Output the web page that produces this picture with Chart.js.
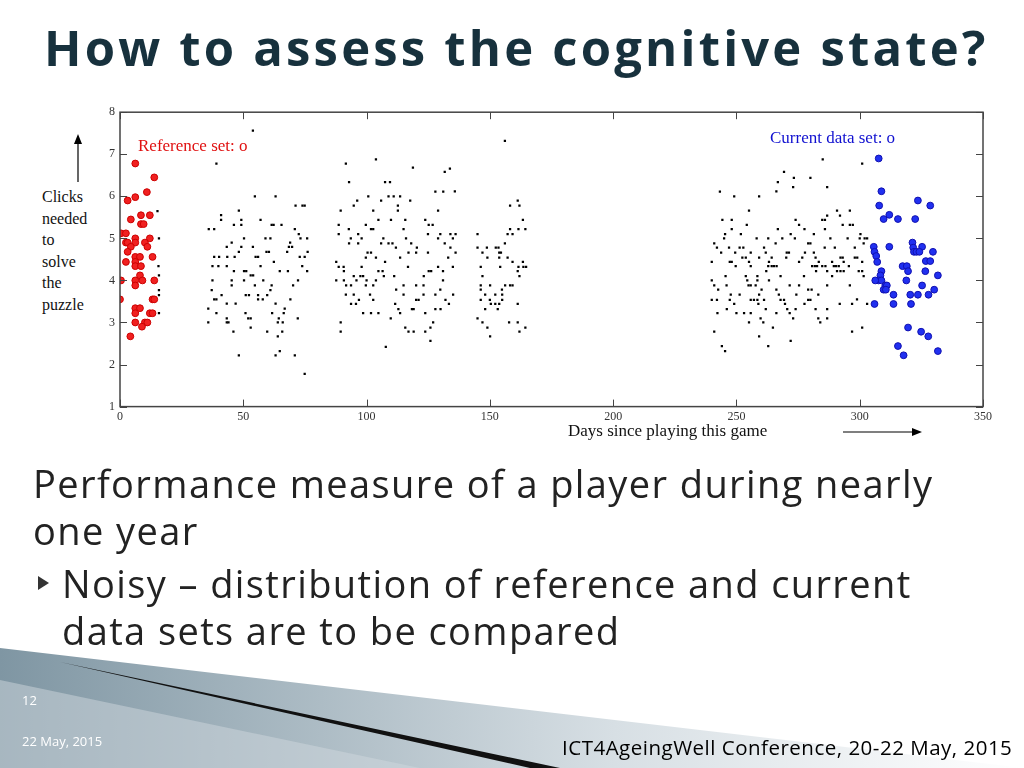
<!DOCTYPE html>
<html><head><meta charset="utf-8">
<script src="https://cdn.jsdelivr.net/npm/chart.js@4"></script>
<style>
body{margin:0;width:1024px;height:768px;background:#fff;position:relative;overflow:hidden;font-family:"Open Sans",sans-serif}
.abs{position:absolute;white-space:nowrap}
#title{left:44px;top:14px;font-size:49px;font-weight:bold;color:#17313d;letter-spacing:3.2px}
.serif{font-family:"Liberation Serif",serif}
.body{font-size:38px;color:#222;left:33px;letter-spacing:1.4px}
</style></head><body>
<svg class="abs" style="left:0;top:0" width="1024" height="768">
<defs><linearGradient id="g" x1="0" y1="0" x2="1" y2="0"><stop offset="0" stop-color="#7f96a3"/><stop offset="0.6" stop-color="#d7dfe4"/><stop offset="1" stop-color="#fff"/></linearGradient></defs>
<polygon points="0,648 0,768 1024,768" fill="url(#g)"/>
<polygon points="60,662 560,768 530,768" fill="#111"/>
<polygon points="0,680 0,768 420,768" fill="#cfd8de" opacity="0.5"/>
</svg>
<div id="title" class="abs">How to assess the cognitive state?</div>
<canvas id="c" class="abs" width="899" height="327" style="left:104px;top:100px;width:899px;height:327px"></canvas>
<div class="abs serif" style="left:138px;top:136px;font-size:17px;color:#e01010">Reference set: o</div>
<div class="abs serif" style="left:770px;top:128px;font-size:17px;color:#1010d0">Current data set: o</div>
<div class="abs serif" style="left:42px;top:186px;font-size:16px;line-height:21.5px;color:#111;white-space:normal">Clicks<br>needed<br>to<br>solve<br>the<br>puzzle</div>
<svg class="abs" style="left:0;top:0" width="1024" height="768">
<line x1="78" y1="182" x2="78" y2="138" stroke="#000" stroke-width="1.2"/><polygon points="78,134 74,144 82,144" fill="#000"/>
<line x1="843" y1="432" x2="918" y2="432" stroke="#000" stroke-width="1.2"/><polygon points="922,432 912,428 912,436" fill="#000"/>
</svg>
<div class="abs serif" style="left:568px;top:421px;font-size:17px;color:#111">Days since playing this game</div>
<div class="abs body" style="top:457px">Performance measure of a player during nearly</div>
<div class="abs body" style="top:504px">one year</div>
<div class="abs" style="left:38px;top:576px;width:0;height:0;border-left:11px solid #333;border-top:7px solid transparent;border-bottom:7px solid transparent"></div>
<div class="abs body" style="left:62px;top:557px">Noisy – distribution of reference and current</div>
<div class="abs body" style="left:62px;top:604px">data sets are to be compared</div>
<div class="abs" style="left:22px;top:691px;font-size:13px;color:#fff">12</div>
<div class="abs" style="left:22px;top:732px;font-size:13px;color:#fff">22 May, 2015</div>
<div class="abs" style="left:562px;top:733px;font-size:20.5px;color:#000;letter-spacing:0.5px">ICT4AgeingWell Conference, 20-22 May, 2015</div>
<script>
const xTicks=[0,50,100,150,200,250,300,350];
const yTicks=[1,2,3,4,5,6,7,8];
const refX=[6.2,13.9,10.9,6.2,3.1,4.4,12.1,8.5,8.5,9.6,0.4,2.4,2.4,3.1,6.2,6.2,12.1,10.1,4.4,11.1,3.1,6.2,8.1,13.2,2.4,6.2,6.2,8.5,8.1,0.4,6.2,9.1,13.9,6.2,0,13.2,13.9,6.2,8.1,6.2,12.1,13.2,6.2,10.1,11.1,8.9,4.2];
const refY=[6.78,6.45,6.1,5.98,5.9,5.45,5.55,5.55,5.34,5.34,5.12,5.12,4.9,4.9,5.0,4.9,5.0,4.9,4.8,4.8,4.68,4.56,4.56,4.56,4.44,4.44,4.34,4.34,4.12,4.0,4.0,4.0,4.0,3.88,3.55,3.55,3.55,3.34,3.34,3.22,3.22,3.22,3.0,3.0,3.0,2.9,2.67];
const curX=[307.7,308.8,307.9,323.6,328.6,312,309.7,315.5,322.5,305.7,312,321.4,321.7,325.3,322,323,324.2,329.7,306,306.7,307.1,326.8,328.6,317.4,319.1,319.6,326.6,331.7,308.8,308.4,307.7,308.8,318.9,306.3,310.4,311,309.7,310.6,325.3,330.2,313.7,320.5,323.6,327.9,306,313.7,320.8,319.6,324.9,327.8,315.5,317.8,331.7];
const curY=[6.9,6.12,5.78,5.9,5.78,5.56,5.46,5.46,5.46,4.8,4.8,4.9,4.78,4.8,4.68,4.68,4.68,4.68,4.68,4.58,4.44,4.46,4.46,4.34,4.34,4.22,4.22,4.12,4.22,4.12,4.0,4.0,4.0,4.0,3.88,3.88,3.78,3.78,3.88,3.78,3.66,3.66,3.66,3.66,3.44,3.44,3.44,2.88,2.78,2.67,2.44,2.22,2.32];
const dayX=[15.2,15.8,15.6,15.8,15.8,15.8,15.8,
53.9,39.1,54.7,63.1,48.2,41,41,49.2,57,61.5,62.3,65.5,46.2,49.2,36,38.2,71.2,74,74.9,70.9,72.5,73.2,75.9,50.3,59,61,45.3,53.9,43.3,48.2,49.2,69,69.8,68.5,59.4,60.4,67.8,76.1,38.2,40.2,43.5,46.5,55,56,62.4,72.9,74.9,37.5,39.9,43.3,57,73.9,46.2,50.3,51.2,64.8,68.1,75.9,53,54,37.5,45.3,50.3,58.1,72.2,70.2,45.3,54.7,61.5,37.2,61,51,52.3,41.2,56,59.7,38.2,39.1,56,57.9,69.1,43.3,46.9,63.1,35.8,66.8,39.1,50.9,61.7,66.4,52,53,64.4,43.3,72.1,43.3,44,35.8,64,66,53,46,59.7,65.8,64,64.8,63.1,48.2,70.9,74.9,
103.8,91.6,118.8,131.7,133.8,92.9,107.5,109.5,127.9,131.1,135.8,100.7,108.9,111,113.6,117.7,105.9,96.2,94.8,112.7,89.5,102.7,112.7,129,104.8,109.9,115.7,123.8,125.2,99.7,88.7,101.8,102.7,92.8,115,126.8,88.7,96.6,124.9,129.9,134,136.1,93.6,98,106.8,116,129,135,92.9,96.6,105.9,108.9,110.5,118.1,131.7,111.9,120.4,134,100.4,101.8,117,120.1,124.9,136.1,99.7,103.8,113.6,133.1,87.7,88.7,90.7,98,107.5,116.8,129,135,90.8,104.8,106.5,125.2,126.2,131,94.8,97.5,98.6,107,111.2,123.2,87.7,90.8,95.9,100,103.8,131,91.7,93.7,99.7,102.7,115,120.1,123.1,112,129.9,91.6,94.8,101.4,115,123.1,127.9,135.1,96.9,102.7,120.1,121.1,132,93.7,95.7,111.6,133.4,112.9,118.4,119.1,127.9,130,98.6,101.8,104.8,113.6,123.8,109.8,89.5,127,115.7,117,119.1,123.8,125.9,89.5,125.9,107.8,
156.1,161.3,158.2,162,163.4,164.4,158.2,161.6,145,157.2,159.2,156.1,145,148.8,152.4,153.5,147,153.8,154.5,149,153.8,157.2,159.2,163.4,146.3,154.2,161.6,163.6,164.7,161.3,162,147,146.3,150.1,156.2,158.2,159.2,146.3,154.9,148.1,152.2,155,146.3,150,155,150.4,152.2,153.8,148.1,153.2,161.3,145,147,157.8,161.3,149,162,164.4,150.1,
285,301,269.3,273.3,280,266.8,273,286.8,266.2,243.3,249.1,259.2,255.1,290.8,296,286.8,292,244.3,248.1,274,284.8,285.9,296,297.2,293.1,254.2,275.4,248.1,266.8,277.6,285.9,245.4,251.8,272,281.4,300.3,241,245,258.2,262.9,268.6,273.7,288.1,295.1,300,302,303,242.1,247,251.3,252.8,261.2,265.9,279.1,280,285.8,289.9,298,243.8,249.5,255.8,261.9,270.4,271.3,277.8,281.4,301.6,252.4,253.8,259.2,264.3,270.2,276.7,282.1,292.2,293.1,298,299,240,247.3,248.1,255.1,263.2,275.4,283.4,288.8,293.5,301,249.7,255.8,262.9,264.3,265.2,266.3,280.7,281.8,282.7,284.8,286.1,289.5,290.4,291.5,295.6,282.3,286.8,290.8,292.2,293.5,299.6,301,262.1,245.6,253.8,258.5,267.9,277.4,288.8,301.6,240,254.4,258.5,263.2,241,246,254.9,255.8,257.8,271.6,275.4,286.8,296,242.6,260.2,266.2,279.1,280.5,247.7,251.3,259.2,267.2,274.3,283.2,240,242.1,247.3,255.8,257.1,258.5,261.2,267.9,269.3,279.1,280,249.1,258.9,269.7,277.6,291.9,296.9,298.9,303,246.1,261.9,270.6,274,282.1,286.8,242.3,250,253.1,255.8,266.2,271.6,259.8,273,283.2,286.8,255.1,260.9,284,264.8,301,241,296.9,259.2,272,244.1,262.9,245.4];
const dayY=[5.65,5.0,4.34,4.12,3.77,3.65,3.22,
7.56,6.78,6.0,6.0,5.66,5.55,5.44,5.44,5.44,5.32,5.32,5.32,5.32,5.32,5.22,5.22,5.78,5.78,5.78,5.22,5.1,5.0,5.0,5.0,5.0,5.0,4.9,4.8,4.8,4.68,4.8,4.9,4.8,4.8,4.68,4.68,4.68,4.68,4.56,4.56,4.56,4.56,4.56,4.56,4.44,4.56,4.56,4.34,4.34,4.34,4.34,4.34,4.22,4.22,4.22,4.22,4.22,4.22,4.12,4.12,4.0,4.0,4.0,4.0,4.0,3.88,3.88,3.88,3.88,3.77,3.77,3.65,3.65,3.65,3.65,3.65,3.55,3.55,3.55,3.55,3.55,3.45,3.45,3.45,3.33,3.33,3.22,3.22,3.22,3.22,3.1,3.1,3.1,3.1,3.1,3.0,3.0,3.0,3.0,3.0,2.88,2.78,2.78,2.78,2.67,2.32,2.22,2.22,2.22,1.78,
6.88,6.78,6.68,6.58,6.66,6.34,6.34,6.34,6.11,6.11,6.12,6.0,6.0,6.0,6.0,5.9,5.9,5.9,5.78,5.78,5.66,5.66,5.66,5.66,5.44,5.44,5.44,5.44,5.32,5.32,5.32,5.22,5.22,5.22,5.22,5.32,5.1,5.1,5.1,5.1,5.1,5.1,5.0,5.0,5.0,5.0,5.0,5.0,4.88,4.88,4.88,4.88,4.88,4.88,4.88,4.78,4.78,4.78,4.66,4.66,4.66,4.66,4.66,4.66,4.54,4.54,4.54,4.54,4.44,4.32,4.32,4.32,4.44,4.32,4.32,4.32,4.22,4.22,4.22,4.22,4.22,4.22,4.1,4.1,4.1,4.1,4.1,4.1,4.0,4.0,4.0,4.0,4.0,4.0,3.88,3.88,3.88,3.88,3.88,3.88,3.88,3.78,3.78,3.66,3.66,3.66,3.66,3.66,3.66,3.66,3.54,3.54,3.54,3.54,3.54,3.44,3.44,3.44,3.44,3.32,3.32,3.32,3.32,3.32,3.22,3.22,3.22,3.22,3.22,3.1,3.0,3.0,2.88,2.78,2.78,2.78,2.88,2.78,2.56,2.42,
7.32,5.9,5.78,5.78,5.44,5.22,5.22,5.22,5.1,5.1,5.1,4.88,4.78,4.78,4.78,4.78,4.66,4.66,4.66,4.54,4.54,4.54,4.44,4.44,4.32,4.32,4.32,4.32,4.32,4.22,4.1,4.1,3.88,3.88,3.88,3.88,3.88,3.78,3.78,3.66,3.66,3.66,3.54,3.54,3.54,3.44,3.44,3.44,3.32,3.32,3.44,3.1,3.0,3.0,3.0,2.88,2.78,2.88,2.67,
6.88,6.78,6.58,6.44,6.44,6.34,6.22,6.22,6.12,6.11,6.0,6.0,5.66,5.66,5.66,5.54,5.54,5.44,5.44,5.44,5.44,5.44,5.32,5.32,5.32,5.32,5.32,5.22,5.22,5.22,5.22,5.1,5.1,5.1,5.1,5.1,4.88,5.0,5.0,5.0,5.0,5.0,5.0,5.0,5.0,5.0,5.0,4.78,4.78,4.78,4.78,4.78,4.88,4.88,4.88,4.78,4.78,4.78,4.66,4.66,4.66,4.66,4.66,4.66,4.66,4.66,4.88,4.54,4.54,4.54,4.54,4.54,4.54,4.54,4.54,4.54,4.54,4.54,4.44,4.44,4.44,4.44,4.44,4.44,4.44,4.44,4.44,4.44,4.34,4.34,4.34,4.34,4.34,4.34,4.34,4.34,4.34,4.34,4.34,4.34,4.34,4.34,4.34,4.22,4.22,4.22,4.22,4.22,4.22,4.22,4.22,4.1,4.1,4.1,4.1,4.1,4.1,4.1,4.0,4.0,4.0,4.0,3.88,3.88,3.88,3.88,3.88,3.88,3.88,3.88,3.88,3.78,3.78,3.78,3.78,3.78,3.66,3.66,3.66,3.66,3.66,3.66,3.54,3.54,3.54,3.54,3.54,3.54,3.54,3.54,3.54,3.54,3.54,3.44,3.44,3.44,3.44,3.44,3.44,3.55,3.44,3.32,3.32,3.32,3.32,3.32,3.32,3.22,3.22,3.22,3.22,3.22,3.22,3.1,3.1,3.1,3.1,3.0,3.0,3.0,2.88,2.88,2.78,2.78,2.67,2.56,2.44,2.44,2.32];
const pts=(xs,ys)=>xs.map((x,i)=>({x:x,y:ys[i]}));
const inTicks={id:'inTicks',afterDraw(ch){const c=ch.ctx,a=ch.chartArea,xs=ch.scales.x,ys=ch.scales.y;c.save();c.strokeStyle='#444';c.lineWidth=1;c.beginPath();
xTicks.forEach(v=>{const p=Math.round(xs.getPixelForValue(v))+0.5;c.moveTo(p,a.bottom);c.lineTo(p,a.bottom-7);c.moveTo(p,a.top);c.lineTo(p,a.top+7);});
yTicks.forEach(v=>{const p=Math.round(ys.getPixelForValue(v))+0.5;c.moveTo(a.left,p);c.lineTo(a.left+7,p);c.moveTo(a.right,p);c.lineTo(a.right-7,p);});
c.stroke();c.lineWidth=1.5;c.strokeRect(a.left,a.top,a.right-a.left,a.bottom-a.top);c.restore();}};
new Chart(document.getElementById('c'),{type:'scatter',
data:{datasets:[
{data:pts(dayX,dayY),pointRadius:1.6,pointBackgroundColor:'#000',pointBorderWidth:0,pointStyle:'rect'},
{data:pts(refX,refY),pointRadius:3.4,pointBackgroundColor:'#f02020',pointBorderColor:'#c00',pointBorderWidth:1},
{data:pts(curX,curY),pointRadius:3.4,pointBackgroundColor:'#2030f0',pointBorderColor:'#1010b0',pointBorderWidth:1}]},
options:{responsive:false,animation:false,devicePixelRatio:1,
layout:{padding:{left:0,right:20,top:6,bottom:0}},
plugins:{legend:{display:false},tooltip:{enabled:false}},
scales:{x:{type:'linear',min:0,max:350,afterBuildTicks:s=>{s.ticks=xTicks.map(v=>({value:v}));},grid:{display:false,drawTicks:false},border:{display:false},ticks:{color:'#333',font:{family:'Liberation Serif',size:12},padding:3,maxRotation:0}},
y:{type:'linear',min:1,max:8,afterBuildTicks:s=>{s.ticks=yTicks.map(v=>({value:v}));},grid:{display:false,drawTicks:false},border:{display:false},ticks:{color:'#333',font:{family:'Liberation Serif',size:12},padding:5}}}},
plugins:[inTicks]});
</script>
</body></html>
